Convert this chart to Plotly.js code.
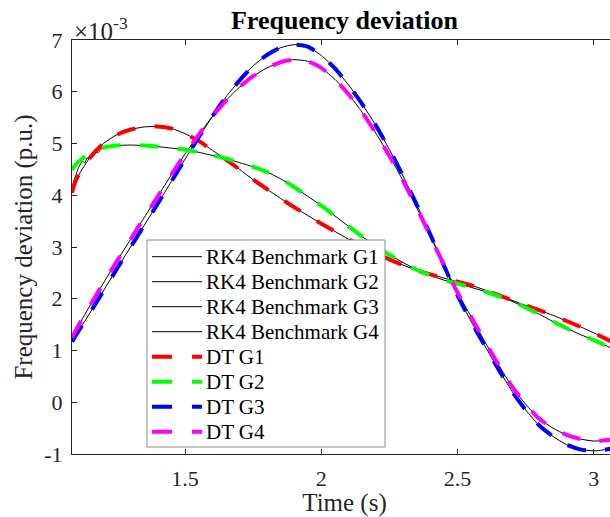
<!DOCTYPE html>
<html>
<head>
<meta charset="utf-8">
<script src="https://cdn.plot.ly/plotly-3.0.1.min.js"></script>
<style>
html,body{margin:0;padding:0;overflow:hidden;background:#fff;width:610px;height:517px;}
#chart{width:617px;height:517px;}
</style>
</head>
<body>
<div id="chart"></div>
<script>
// Time grid (s)
const time = [1.085,1.1,1.15,1.2,1.25,1.3,1.35,1.4,1.45,1.5,1.55,1.6,1.65,1.7,1.75,1.8,1.85,1.9,1.95,2.0,2.05,2.1,2.15,2.2,2.25,2.3,2.35,2.4,2.45,2.5,2.55,2.6,2.65,2.7,2.75,2.8,2.85,2.9,2.95,3.0,3.05,3.085];

// DT results (x 1e-3 p.u.)
const dtG1 = [4.05,4.30,4.72,5.00,5.17,5.27,5.32,5.33,5.29,5.19,5.05,4.87,4.69,4.50,4.30,4.12,3.94,3.77,3.61,3.45,3.30,3.15,3.01,2.88,2.76,2.65,2.55,2.47,2.40,2.33,2.26,2.17,2.07,1.97,1.87,1.78,1.68,1.57,1.46,1.34,1.21,1.12];
const dtG2 = [4.49,4.60,4.82,4.92,4.96,4.97,4.96,4.94,4.91,4.88,4.83,4.77,4.71,4.63,4.55,4.45,4.32,4.16,3.98,3.80,3.60,3.40,3.20,3.02,2.85,2.70,2.56,2.45,2.36,2.29,2.22,2.14,2.05,1.95,1.83,1.70,1.56,1.43,1.31,1.20,1.08,0.99];
const dtG3 = [1.17,1.30,1.72,2.15,2.58,3.00,3.42,3.84,4.27,4.70,5.12,5.52,5.90,6.22,6.50,6.71,6.85,6.91,6.87,6.70,6.45,6.13,5.76,5.35,4.88,4.37,3.82,3.24,2.64,2.06,1.56,1.09,0.64,0.21,-0.15,-0.45,-0.66,-0.82,-0.91,-0.94,-0.91,-0.87];
const dtG4 = [1.25,1.40,1.86,2.30,2.73,3.15,3.57,3.98,4.40,4.80,5.17,5.52,5.83,6.09,6.30,6.46,6.57,6.62,6.59,6.46,6.24,5.95,5.60,5.20,4.76,4.28,3.76,3.21,2.65,2.12,1.65,1.17,0.73,0.30,-0.04,-0.32,-0.50,-0.63,-0.71,-0.75,-0.73,-0.70];

// RK4 benchmark (x 1e-3 p.u.)
const rk4G1 = [4.05,4.30,4.72,5.00,5.17,5.27,5.32,5.33,5.29,5.19,5.05,4.87,4.69,4.50,4.30,4.12,3.94,3.77,3.61,3.45,3.30,3.15,3.01,2.88,2.76,2.65,2.55,2.47,2.40,2.33,2.26,2.17,2.07,1.97,1.87,1.78,1.68,1.57,1.46,1.34,1.21,1.12];
const timeRk2 = [1.085,1.092,1.1,1.108,1.116,1.124,1.132,1.14,1.148,1.156,1.164,1.172,1.18,1.19,1.2,1.25,1.3,1.35,1.4,1.45,1.5,1.55,1.6,1.65,1.7,1.75,1.8,1.85,1.9,1.95,2.0,2.05,2.1,2.15,2.2,2.25,2.3,2.35,2.4,2.45,2.5,2.55,2.6,2.65,2.7,2.75,2.8,2.85,2.9,2.95,3.0,3.05,3.085];
const rk4G2 = [4.12,4.28,4.40,4.52,4.60,4.66,4.62,4.72,4.70,4.78,4.76,4.84,4.82,4.88,4.92,4.96,4.97,4.96,4.94,4.91,4.88,4.83,4.77,4.71,4.63,4.55,4.45,4.32,4.16,3.98,3.80,3.60,3.40,3.20,3.02,2.85,2.70,2.56,2.45,2.36,2.29,2.22,2.14,2.05,1.95,1.83,1.70,1.56,1.43,1.31,1.20,1.08,0.99];
const rk4G3 = [1.17,1.30,1.72,2.15,2.58,3.00,3.42,3.84,4.27,4.70,5.12,5.52,5.90,6.22,6.50,6.71,6.85,6.91,6.87,6.70,6.45,6.13,5.76,5.35,4.88,4.37,3.82,3.24,2.64,2.06,1.56,1.09,0.64,0.21,-0.15,-0.45,-0.66,-0.82,-0.91,-0.94,-0.91,-0.87];
const rk4G4 = [1.25,1.40,1.86,2.30,2.73,3.15,3.57,3.98,4.40,4.80,5.17,5.52,5.83,6.09,6.30,6.46,6.57,6.62,6.59,6.46,6.24,5.95,5.60,5.20,4.76,4.28,3.76,3.21,2.65,2.12,1.65,1.17,0.73,0.30,-0.04,-0.32,-0.50,-0.63,-0.71,-0.75,-0.73,-0.70];

const seriesNames = ['RK4 Benchmark G1','RK4 Benchmark G2','RK4 Benchmark G3','RK4 Benchmark G4','DT G1','DT G2','DT G3','DT G4'];
const xTicks = [1.5,2,2.5,3];
const xTickText = ['1.5','2','2.5','3'];
const yTicks = [-1,0,1,2,3,4,5,6,7];
const yTickText = ['-1','0','1','2','3','4','5','6','7'];

const FONT = 'Liberation Serif';
const AX = '#262626';
const COLORS = ['#000000','#000000','#000000','#000000','#ff0000','#00ff00','#0000ff','#ff00ff'];
const DASH = '19px,19px';

function rk(i, x, y){
  return {x:x, y:y, name:seriesNames[i], type:'scatter', mode:'lines', showlegend:false,
    line:{color:COLORS[i], width:1, shape:'spline', smoothing:0.6}};
}
function dt(i, x, y){
  return {x:x, y:y, name:seriesNames[i], type:'scatter', mode:'lines', showlegend:false,
    line:{color:COLORS[i], width:4, dash:DASH, shape:'spline', smoothing:0.6}};
}

const data = [
  rk(0, time, rk4G1),
  rk(1, timeRk2, rk4G2),
  rk(2, time, rk4G3),
  rk(3, time, rk4G4),
  dt(4, time, dtG1),
  dt(5, time, dtG2),
  dt(6, time, dtG3),
  dt(7, time, dtG4)
];

// Legend box (drawn as paper-coordinate decoration)
const W = 545, H = 414, L = 72, T = 40;
const px = v => (v - L) / W;
const py = v => (T + H - v) / H;
const shapes = [{type:'rect', xref:'paper', yref:'paper', layer:'above',
  x0:px(147), x1:px(385), y0:py(447), y1:py(240),
  fillcolor:'#ffffff', line:{color:'#8c8c8c', width:1}}];
const annotations = [{text:'×10<sup>-3</sup>', xref:'paper', yref:'paper', x:0, y:1,
    xanchor:'left', yanchor:'bottom', yshift:-7, showarrow:false,
    font:{family:FONT, size:25, color:AX}}];
seriesNames.forEach((n, i) => {
  const yc = 256.7 + 25 * i;
  const isDT = i >= 4;
  shapes.push({type:'line', xref:'paper', yref:'paper', layer:'above',
    x0:px(152), x1:px(202), y0:py(yc), y1:py(yc),
    line:{color:COLORS[i], width:isDT ? 4 : 1, dash:isDT ? '20px,20px' : 'solid'}});
  annotations.push({text:n, xref:'paper', yref:'paper', x:px(204), y:py(yc),
    xanchor:'left', yanchor:'middle', showarrow:false,
    font:{family:FONT, size:21, color:'#000000'}});
});

const axisCommon = {
  showline:true, linecolor:AX, linewidth:1, mirror:'ticks',
  ticks:'inside', ticklen:5, tickwidth:1, tickcolor:AX,
  showgrid:false, zeroline:false,
  tickfont:{family:FONT, size:22, color:AX}
};

const layout = {
  width:617, height:517,
  margin:{l:72, r:0, t:40, b:63},
  paper_bgcolor:'#ffffff', plot_bgcolor:'#ffffff',
  font:{family:FONT, color:AX},
  showlegend:false,
  title:{text:'<b>Frequency deviation</b>', font:{family:FONT, size:26, color:'#000000'},
    xref:'paper', x:0.5, xanchor:'center', yref:'container', y:0.961, yanchor:'middle'},
  xaxis:Object.assign({}, axisCommon, {
    range:[1.085,3.085], tickmode:'array', tickvals:xTicks, ticktext:xTickText,
    ticklabelstandoff:5,
    title:{text:'Time (s)', font:{family:FONT, size:25, color:AX}, standoff:8}
  }),
  yaxis:Object.assign({}, axisCommon, {
    range:[-1,7], tickmode:'array', tickvals:yTicks, ticktext:yTickText,
    ticklabelstandoff:4,
    title:{text:'Frequency deviation (p.u.)', font:{family:FONT, size:25, color:AX}, standoff:4}
  }),
  shapes:shapes,
  annotations:annotations
};

Plotly.newPlot('chart', data, layout, {displayModeBar:false, staticPlot:true});
</script>
</body>
</html>
